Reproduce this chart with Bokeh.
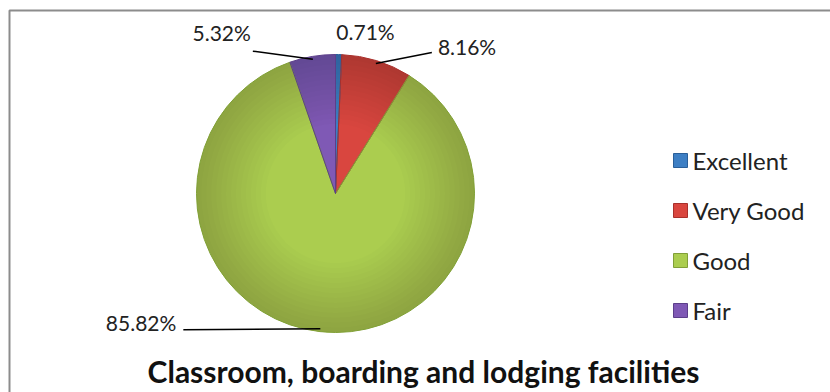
import math
from bokeh.plotting import figure
from bokeh.models import ColumnDataSource, Range1d
from bokeh.core.properties import value
from bokeh.embed import file_html
from bokeh.resources import INLINE

# ---- data ----
categories = ["Excellent", "Very Good", "Good", "Fair"]
percents = [0.71, 8.16, 85.82, 5.32]
labels = ["0.71%", "8.16%", "85.82%", "5.32%"]
title_text = "Classroom, boarding and lodging facilities"

# ---- style ----
colors = ["#3d7fc4", "#d9463f", "#abcd4f", "#7f59b5"]
edges = ["#2a5f99", "#a8302c", "#819f38", "#5c3f8a"]
W, H = 830, 392
FONT = "Lato"

def Y(ypix):
    return H - ypix

cx, cy, R = 335, Y(193), 139

p = figure(width=W, height=H, output_backend="svg", toolbar_location=None,
           x_range=Range1d(0, W), y_range=Range1d(0, H),
           x_axis_location=None, y_axis_location=None, min_border=0)
p.grid.visible = False
p.outline_line_color = None
p.background_fill_color = "white"
p.border_fill_color = "white"

# chart border
p.quad(left=[9], right=[W + 10], top=[Y(10)], bottom=[-10],
       fill_alpha=0, line_color="#8c8c8c", line_width=2)

# pie slices (start at 12 o'clock, clockwise)
total = sum(percents)
starts, ends, mids = [], [], []
cum = 0.0
for v in percents:
    a0 = math.pi / 2 - 2 * math.pi * (cum + v) / total
    a1 = math.pi / 2 - 2 * math.pi * cum / total
    starts.append(a0)
    ends.append(a1)
    mids.append((a0 + a1) / 2)
    cum += v

src = ColumnDataSource(dict(start=starts, end=ends, color=colors, edge=edges))
p.wedge(x=cx, y=cy, radius=R, start_angle="start", end_angle="end",
        fill_color="color", line_color=None, source=src)
# smooth shading toward the rim (soft 3D look)
steps = 14
for k in range(steps):
    p.annular_wedge(x=cx, y=cy, inner_radius=R * (0.5 + 0.5 * k / steps),
                    outer_radius=R, start_angle="start", end_angle="end",
                    fill_color="black", fill_alpha=0.011, line_color=None,
                    source=src)
p.wedge(x=cx, y=cy, radius=R, start_angle="start", end_angle="end",
        fill_alpha=0, line_color="edge", line_width=1, source=src)

# data labels with leader lines
# (line end offset from rim anchor, text offset from line end, alignment)
line_off = [(0, 0), (56, 11), (-137, -1), (-60, 8)]
text_off = [(27, 26), (6, 6), (-7, 7), (-2, 19)]
aligns = ["center", "left", "right", "right"]
draw_line = [False, True, True, True]

tx, ty, ta = [], [], []
for i, a in enumerate(mids):
    ax = cx + R * 0.98 * math.cos(a)
    ay = cy + R * 0.98 * math.sin(a)
    lx, ly = ax + line_off[i][0], ay + line_off[i][1]
    if draw_line[i]:
        p.line([ax, lx], [ay, ly], line_color="black", line_width=1.5)
    tx.append(lx + text_off[i][0])
    ty.append(ly + text_off[i][1])
    ta.append(aligns[i])

lsrc = ColumnDataSource(dict(x=tx, y=ty, t=labels, a=ta))
p.text(x="x", y="y", text="t", text_align="a", text_baseline="middle",
       text_font=value(FONT), text_font_size="21px", text_color="#222222",
       source=lsrc)

# legend
leg_y = [Y(160 + 50 * i) for i in range(len(categories))]
p.scatter(x=[680] * len(categories), y=leg_y, marker="square", size=14,
          fill_color=colors, line_color=edges)
p.text(x=[692] * len(categories), y=leg_y, text=categories,
       text_baseline="middle", text_font=value(FONT), text_font_size="24px",
       text_color="#222222")

# title
p.text(x=[423], y=[Y(370)], text=[title_text], text_align="center",
       text_baseline="middle", text_font=value(FONT), text_font_size="30px",
       text_font_style="bold", text_color="#111111")

open("out.html", "w").write(file_html(p, INLINE))
